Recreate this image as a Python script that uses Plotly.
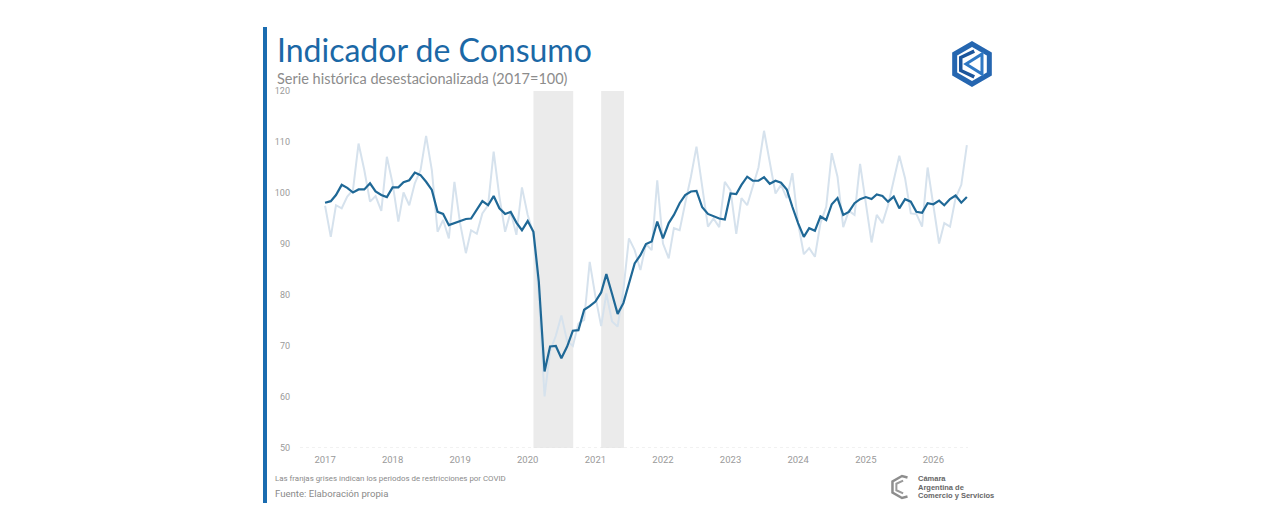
import math
import pandas as pd
import plotly.graph_objects as go

# serie desestacionalizada (linea oscura) y serie original (linea clara), 2017=100
desest = [98.1, 98.4, 99.6, 101.6, 101.0, 100.1, 100.7, 100.7, 101.9, 100.3, 99.6, 99.2,
          101.1, 101.1, 102.1, 102.5, 104.0, 103.5, 102.2, 100.6, 96.3, 95.9, 93.7, 94.1,
          94.4, 94.9, 95.0, 96.7, 98.4, 97.6, 99.4, 97.0, 95.9, 96.3, 94.2, 92.7,
          94.5, 92.4, 82.6, 65.0, 69.9, 70.0, 67.6, 69.9, 73.0, 73.1, 77.1, 77.8,
          78.7, 80.5, 84.1, 80.2, 76.3, 78.4, 82.3, 86.2, 87.8, 90.0, 90.5, 94.4,
          91.1, 94.1, 95.7, 98.0, 99.6, 100.3, 100.4, 97.2, 95.9, 95.4, 95.0, 94.8,
          99.9, 99.8, 101.6, 103.2, 102.4, 102.4, 103.1, 101.8, 102.4, 102.0, 100.7, 97.3,
          94.1, 91.4, 93.1, 92.6, 95.4, 94.7, 97.8, 99.0, 95.7, 96.3, 98.0, 98.8,
          99.2, 98.8, 99.7, 99.4, 98.3, 99.3, 97.0, 98.8, 98.3, 96.3, 96.1, 98.0,
          97.8, 98.5, 97.6, 98.8, 99.5, 98.1, 99.2]
original = [97.5, 91.4, 97.6, 97.0, 99.3, 100.6, 109.7, 104.5, 98.3, 99.4, 96.5, 107.1,
            101.9, 94.4, 100.1, 97.6, 101.9, 104.5, 111.2, 104.5, 92.4, 94.7, 91.1, 102.2,
            94.0, 88.2, 92.7, 92.0, 96.0, 97.6, 108.1, 99.3, 92.4, 96.3, 91.8, 101.1,
            95.7, 92.0, 80.0, 60.1, 69.0, 72.0, 76.0, 71.0, 70.0, 74.4, 75.1, 86.5,
            79.7, 73.9, 80.3, 74.8, 73.8, 81.0, 91.1, 88.8, 84.9, 90.0, 88.8, 102.5,
            90.1, 87.2, 93.1, 92.7, 98.0, 103.2, 109.1, 101.2, 93.4, 95.0, 93.3, 102.2,
            100.5, 92.0, 99.0, 97.6, 101.4, 105.0, 112.2, 106.1, 99.9, 101.6, 99.0, 103.9,
            94.1, 88.0, 89.2, 87.5, 94.1, 97.3, 107.8, 103.2, 93.3, 96.5, 95.7, 105.7,
            97.6, 90.3, 95.7, 94.1, 97.6, 102.5, 107.3, 102.9, 96.0, 95.9, 93.4, 105.0,
            97.3, 90.1, 94.1, 93.4, 99.0, 101.6, 109.4]
fechas = pd.date_range("2017-01-01", periods=len(desest), freq="MS")

# franjas de restricciones por COVID
covid_inicio = ["2020-02-01", "2021-02-01"]
covid_fin = ["2020-09-03", "2021-06-04"]

y_ticks = [50, 60, 70, 80, 90, 100, 110, 120]

# la pagina deja 8px de margen, asi que todo se mide en pixeles de ventana y se corre
OFF = 8
W, H = 1280 - 2 * OFF, 531 - 2 * OFF
L, R, T, B = 296, 980, 91, 448   # area del grafico en pixeles de ventana


def px(x):
    return (x - L) / (R - L)


def py(y):
    return (B - y) / (B - T)


def ruta(puntos, cerrar=False):
    s = "M " + " L ".join(f"{px(x):.5f},{py(y):.5f}" for x, y in puntos)
    return s + (" Z" if cerrar else "")


def hexa(cx, cy, r, angulos):
    return [(cx + r * math.cos(math.radians(a)), cy - r * math.sin(math.radians(a))) for a in angulos]


fig = go.Figure()
fig.add_trace(go.Scatter(x=fechas, y=original, mode="lines",
                         line=dict(color="#d6e2ed", width=2), hoverinfo="skip"))
fig.add_trace(go.Scatter(x=fechas, y=desest, mode="lines",
                         line=dict(color="#1f6896", width=2.2)))

shapes = []
for a, b in zip(covid_inicio, covid_fin):
    shapes.append(dict(type="rect", xref="x", yref="paper", x0=a, x1=b, y0=0, y1=1,
                       fillcolor="#ebebeb", line=dict(width=0), layer="below"))

# linea base punteada
shapes.append(dict(type="line", xref="paper", yref="y", x0=px(300), x1=px(968), y0=50, y1=50,
                   line=dict(color="#e2e2e2", width=1, dash="dot")))

# barra azul a la izquierda
shapes.append(dict(type="rect", xref="paper", yref="paper", x0=px(263), x1=px(267),
                   y0=py(503), y1=py(27), fillcolor="#1a6cb0", line=dict(width=0)))

# logo superior
cx, cy = 972, 64
shapes.append(dict(type="path", xref="paper", yref="paper",
                   path=ruta(hexa(cx, cy, 20, [90, 150, 210, 270, 330, 30]), True),
                   line=dict(color="#2566b0", width=5)))
shapes.append(dict(type="path", xref="paper", yref="paper",
                   path=ruta(hexa(cx, cy, 13, [80, 150, 210, 280])),
                   line=dict(color="#1b559c", width=3.5)))
shapes.append(dict(type="path", xref="paper", yref="paper",
                   path=ruta([(966, 64), (982, 54), (982, 74)], True),
                   line=dict(color="#2f78c4", width=3)))

# logo inferior (gris)
gx, gy = 902, 487
shapes.append(dict(type="path", xref="paper", yref="paper",
                   path=ruta(hexa(gx, gy, 11, [60, 90, 150, 210, 270, 300])),
                   line=dict(color="#8d8d8d", width=2.5)))
shapes.append(dict(type="path", xref="paper", yref="paper",
                   path=ruta(hexa(gx, gy, 6.5, [80, 150, 210, 280])),
                   line=dict(color="#9a9a9a", width=2)))

annotations = [
    dict(text="Indicador de Consumo", x=px(275), y=py(50), xanchor="left", yanchor="middle",
         font=dict(family="Lato", size=32, color="#1b68a6")),
    dict(text="Serie histórica desestacionalizada (2017=100)", x=px(275), y=py(79),
         xanchor="left", yanchor="middle",
         font=dict(family="Lato", size=14.5, color="#8c8c8c")),
    dict(text="Las franjas grises indican los periodos de restricciones por COVID", x=px(273), y=py(478),
         xanchor="left", yanchor="middle", font=dict(family="Roboto", size=7.9, color="#8a8a8a")),
    dict(text="Fuente: Elaboración propia", x=px(273), y=py(493), xanchor="left", yanchor="middle",
         font=dict(family="Roboto", size=9.6, color="#8a8a8a")),
]
for i, t in enumerate(["Cámara", "Argentina de", "Comercio y Servicios"]):
    annotations.append(dict(text=f"<b>{t}</b>", x=px(916), y=py(479 + 8 * i), xanchor="left",
                            yanchor="middle", font=dict(family="Liberation Sans", size=7.5, color="#666666")))
for a in annotations:
    a.update(xref="paper", yref="paper", showarrow=False)

fig.update_layout(
    width=W, height=H,
    margin=dict(l=L - OFF, r=W - (R - OFF), t=T - OFF, b=H - (B - OFF), pad=0),
    paper_bgcolor="white", plot_bgcolor="white",
    showlegend=False,
    shapes=shapes, annotations=annotations,
    xaxis=dict(range=["2016-07-28", "2026-09-10"], dtick="M12", tick0="2017-01-01",
               tickformat="%Y", showgrid=False, zeroline=False, showline=False, ticks="",
               ticklabelstandoff=4,
               tickfont=dict(family="Roboto", size=9.5, color="#9a9a9a")),
    yaxis=dict(range=[50, 120], tickvals=y_ticks, showgrid=False, zeroline=False,
               showline=False, ticks="", ticklabelstandoff=5,
               tickfont=dict(family="Roboto", size=9, color="#9a9a9a")),
)

fig.write_html("out.html")
